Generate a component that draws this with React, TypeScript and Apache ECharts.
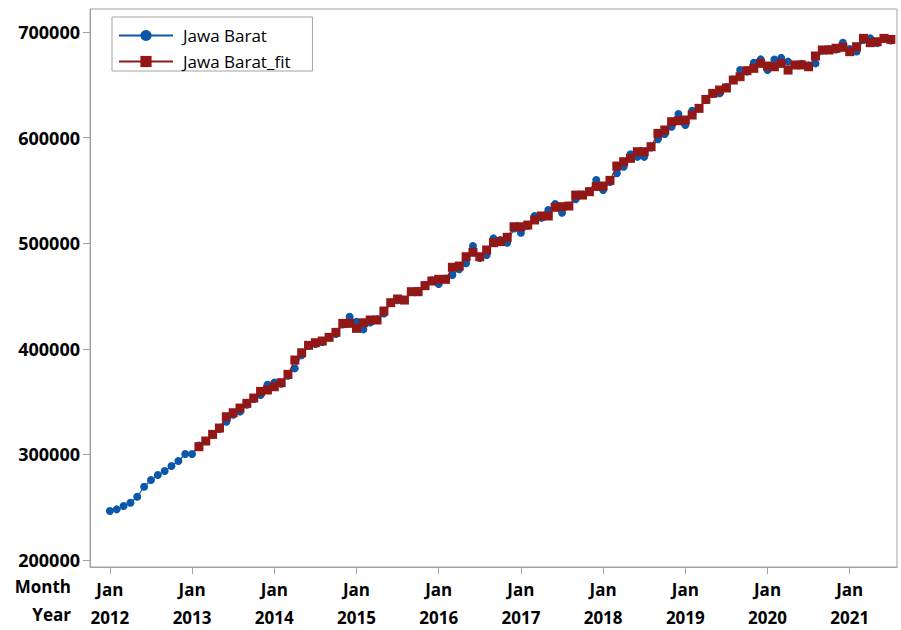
import React, { useEffect, useRef } from "react";
import * as echarts from "echarts";

// Monthly observations, Jan 2012 onwards
const START_YEAR = 2012;
const monthLabel = "Jan";
const yearTickIndex = [0, 12, 24, 36, 48, 60, 72, 84, 96, 108];
const yTickValues = [200000, 300000, 400000, 500000, 600000, 700000];

const jawaBarat = [
  246400, 248000, 251100, 254300, 259900, 269400, 275800, 280500, 284300, 289000,
  293800, 300400, 300400, 308500, 313000, 318500, 324000, 331000, 337500, 340500,
  347000, 352500, 356300, 366000, 368000, 367000, 374500, 381500, 394000, 403000,
  404500, 406500, 411000, 414000, 423000, 430400, 425700, 418400, 425000, 428000,
  433500, 443500, 446000, 446500, 454000, 455000, 460500, 465000, 461400, 466500,
  469900, 475300, 481000, 497300, 486000, 488800, 504600, 503000, 500500, 514000,
  510000, 516500, 525800, 524000, 531400, 537100, 528900, 535500, 541600, 546000,
  549500, 559800, 550400, 558000, 566200, 572500, 584200, 581800, 581800, 590500,
  598400, 603400, 610300, 622300, 611900, 625500, 628000, 635500, 641500, 641900,
  648000, 655000, 664000, 662500, 670900, 674100, 664000, 674000, 675500, 672000,
  669000, 670000, 668500, 670300, 682500, 684000, 683500, 689900, 684000, 681500,
  692500, 694000, 689500, 693500, 692000,
];

// Fitted values begin at month index 13 (Feb 2013)
const FIT_START = 13;
const jawaBaratFit = [
  307300, 312700, 319000, 325000, 335700, 339500, 343900, 348400, 353400, 359700,
  361000, 364100, 367900, 375800, 389400, 396300, 403300, 405800, 407400, 410900,
  415600, 424100, 424100, 419400, 424700, 427300, 427300, 435800, 443700, 447200,
  446200, 454100, 454100, 459800, 464200, 465800, 465800, 477200, 478400, 487200,
  491400, 487200, 493600, 500500, 501500, 505600, 515600, 515600, 517200, 522000,
  525800, 525800, 534000, 534600, 535200, 545600, 545600, 548800, 553800, 554200,
  559500, 573100, 577200, 580400, 586700, 586700, 591400, 604000, 607200, 615100,
  616000, 616700, 621400, 627700, 636200, 641900, 645100, 647000, 654500, 657700,
  663400, 665600, 670300, 667800, 667100, 670300, 664000, 668800, 668800, 667100,
  677300, 683000, 683000, 684600, 685500, 681400, 686100, 694000, 689900, 690800,
  694000, 693000,
];

const BLUE = "#0b57aa";
const RED = "#921717";
const AXIS_GRAY = "#a3a3a3";
const FONT = "'Open Sans', 'Noto Sans', sans-serif";

export default function App() {
  const ref = useRef<HTMLDivElement>(null);

  useEffect(() => {
    if (!ref.current) return;
    const chart = echarts.init(ref.current, undefined, { renderer: "svg" });

    const actualData = jawaBarat.map((v, i) => [i, v]);
    const fitData = jawaBaratFit.map((v, i) => [i + FIT_START, v]);

    const boldLabel = { fontFamily: FONT, fontSize: 17, fontWeight: "bold", color: "#000" };

    chart.setOption({
      animation: false,
      backgroundColor: "#ffffff",
      textStyle: { fontFamily: FONT },
      grid: {
        left: 90,
        top: 9,
        right: 4,
        bottom: 63,
        show: true,
        borderColor: AXIS_GRAY,
        borderWidth: 1,
        containLabel: false,
      },
      legend: {
        left: 112,
        top: 17,
        orient: "vertical",
        selectedMode: false,
        borderColor: AXIS_GRAY,
        borderWidth: 1,
        padding: [10, 22, 1, 6],
        itemWidth: 54,
        itemHeight: 14,
        itemGap: 9,
        textStyle: {
          fontFamily: FONT,
          fontSize: 17,
          color: "#000",
          padding: [0, 0, 0, 5],
        },
        data: ["Jawa Barat", "Jawa Barat_fit"],
      },
      xAxis: {
        type: "value",
        min: -2.9,
        max: 114.9,
        splitLine: { show: false },
        axisLine: { show: true, onZero: false, lineStyle: { color: AXIS_GRAY, width: 1 } },
        axisTick: {
          show: true,
          length: 7,
          customValues: yearTickIndex,
          lineStyle: { color: AXIS_GRAY },
        },
        axisLabel: {
          customValues: yearTickIndex,
          margin: 3,
          formatter: (v: number) =>
            `{m|${monthLabel}}\n{y|${START_YEAR + Math.round(v / 12)}}`,
          rich: {
            m: { ...boldLabel, lineHeight: 38 },
            y: { ...boldLabel, lineHeight: 18 },
          },
        },
      },
      yAxis: {
        type: "value",
        min: 193400,
        max: 721800,
        splitLine: { show: false },
        axisLine: { show: true, onZero: false, lineStyle: { color: AXIS_GRAY, width: 1 } },
        axisTick: {
          show: true,
          length: 7,
          customValues: yTickValues,
          lineStyle: { color: AXIS_GRAY },
        },
        axisLabel: {
          customValues: yTickValues,
          margin: 10,
          ...boldLabel,
          fontSize: 18,
          formatter: (v: number) => String(v),
        },
      },
      graphic: [
        {
          type: "text",
          right: 901 - 71,
          top: 578,
          style: { text: "Month", font: `bold 17px ${FONT}`, fill: "#000" },
        },
        {
          type: "text",
          right: 901 - 71,
          top: 606,
          style: { text: "Year", font: `bold 17px ${FONT}`, fill: "#000" },
        },
      ],
      series: [
        {
          name: "Jawa Barat",
          type: "line",
          data: actualData,
          symbol: "circle",
          symbolSize: 8,
          showAllSymbol: true,
          itemStyle: { color: BLUE },
          lineStyle: { color: BLUE, width: 1.2 },
          z: 2,
        },
        {
          name: "Jawa Barat_fit",
          type: "line",
          data: fitData,
          symbol: "rect",
          symbolSize: 9,
          showAllSymbol: true,
          itemStyle: { color: RED },
          lineStyle: { color: RED, width: 1.2 },
          z: 3,
        },
      ],
    });

    return () => chart.dispose();
  }, []);

  return <div ref={ref} style={{ width: 901, height: 630, position: "absolute", left: 0, top: 0 }} />;
}
